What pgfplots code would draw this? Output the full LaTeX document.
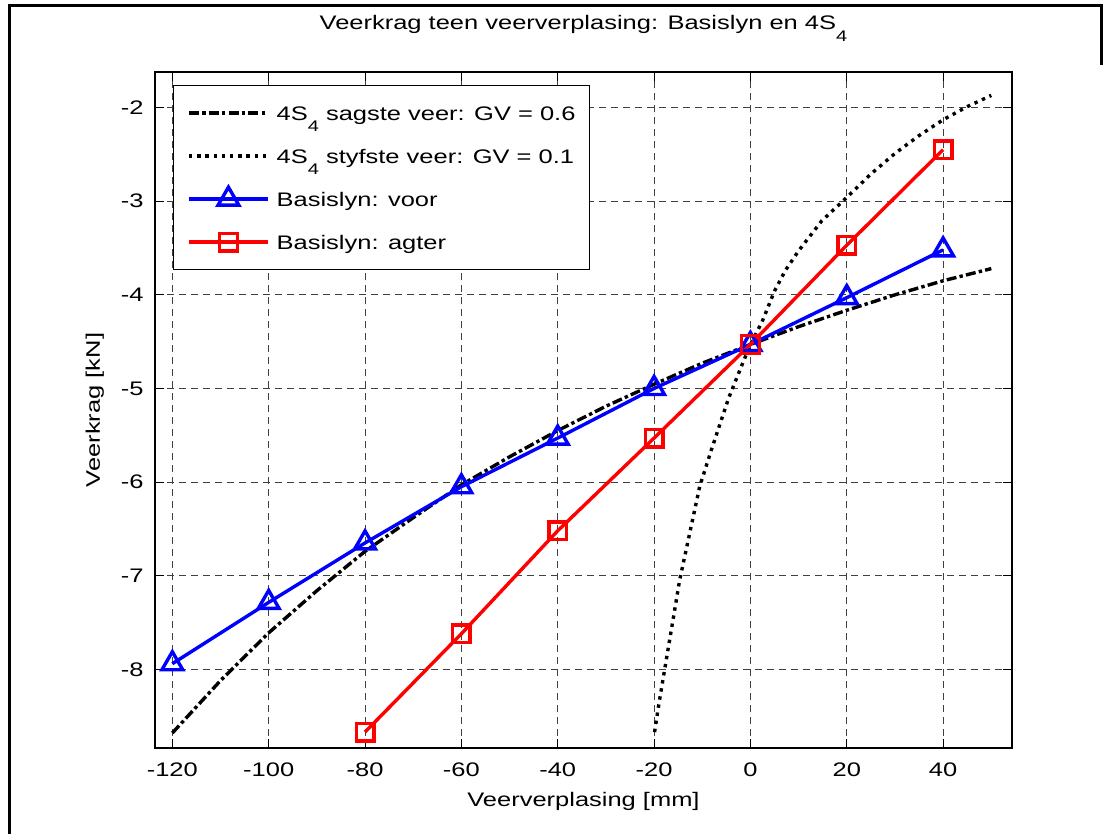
\documentclass[border=0pt]{standalone}
\usepackage{fontspec}
\setmainfont{Liberation Sans}[FakeStretch=1.3]
\usepackage{pgfplots}
\pgfplotsset{compat=1.18}
\newcommand{\sub}[1]{\raisebox{-5.8pt}{\fontsize{7.7}{8}\selectfont #1}}
\begin{document}
\begin{tikzpicture}[font=\fontsize{9.8}{11.8}\selectfont]
\useasboundingbox (0,0) rectangle (554.5pt,417pt);
\fill[white] (0,0) rectangle (554.5pt,417pt);
\draw[line width=1.6pt] (4.85pt,0) -- (4.85pt,414.3pt) -- (550.8pt,414.3pt) -- (550.8pt,384.5pt);
\begin{axis}[
  at={(77.5pt,43pt)}, anchor=south west,
  scale only axis, width=428.5pt, height=338pt,
  xmin=-123.6, xmax=54.3, ymin=-8.84, ymax=-1.62,
  xtick={-120,-100,-80,-60,-40,-20,0,20,40},
  xticklabels={-120,-100,-80,-60,-40,-20,0,20,40},
  ytick={-8,-7,-6,-5,-4,-3,-2},
  yticklabels={-8,-7,-6,-5,-4,-3,-2},
  tick align=inside, major tick length=4.3pt,
  tick style={black, line width=0.5pt},
  axis line style={line width=0.6pt},
  grid=major,
  major grid style={black!75, line width=0.5pt, dash pattern=on 3.5pt off 2.5pt},
  xticklabel style={anchor=base, inner sep=0pt, yshift=-14.5pt},
  yticklabel style={anchor=east, inner sep=0pt, xshift=-5.5pt},
  title={Veerkrag teen veerverplasing: Basislyn en 4S\sub{4}},
  title style={at={(axis description cs:0.5,1)}, anchor=base, inner sep=0pt, yshift=15pt},
  xlabel={Veerverplasing [mm]},
  xlabel style={at={(axis description cs:0.5,0)}, anchor=base, inner sep=0pt, yshift=-29.5pt},
  ylabel={Veerkrag [kN]},
  ylabel style={at={(axis description cs:-0.0642,0.5)}, anchor=base, inner sep=0pt},
  clip=false,
  legend image code/.code={\draw[mark repeat=2, mark phase=2, #1] plot coordinates {(0pt,0pt) (19.75pt,0pt) (39.5pt,0pt)};},
  legend cell align=left,
  legend style={at={(axis description cs:0.0207,0.9808)}, anchor=north west, draw=black, line width=0.5pt, fill=white,
    inner xsep=7pt, inner ysep=7.35pt, row sep=8.5pt, column sep=3.5pt,
    nodes={inner sep=0pt, text height=10pt, text depth=3pt}},
]
\addplot[black, line width=1.7pt, dash pattern=on 5pt off 1.6pt on 1.7pt off 1.6pt] coordinates {
(-120,-8.68) (-110,-8.12) (-100,-7.61) (-90,-7.16) (-80,-6.74) (-70,-6.38) (-60,-6.03) (-50,-5.73) (-40,-5.45) (-30,-5.19) (-20,-4.955) (-10,-4.73) (0,-4.53) (10,-4.34) (20,-4.165) (30,-4.00) (40,-3.85) (50,-3.72)};
\addlegendentry{4S\sub{4} sagste veer: GV = 0.6}
\addplot[black, line width=1.7pt, dash pattern=on 1.7pt off 2.4pt] coordinates {
(-19.9,-8.67) (-19,-8.37) (-17.8,-8.0) (-16,-7.45) (-14.7,-7.05) (-12,-6.4) (-10.5,-6.04) (-8,-5.64) (-6,-5.33) (-4.5,-5.1) (-2,-4.78) (0,-4.53) (2.4,-4.29) (5,-3.96) (7.25,-3.74) (10,-3.53) (14.8,-3.21) (20,-2.96) (25,-2.71) (30,-2.49) (35,-2.30) (40,-2.13) (45,-1.99) (50,-1.87)};
\addlegendentry{4S\sub{4} styfste veer: GV = 0.1}
\addplot[blue, line width=1.7pt, mark=triangle, mark size=6pt, mark options={solid}] coordinates {
(-120,-7.94) (-100,-7.285) (-80,-6.65) (-60,-6.05) (-40,-5.53) (-20,-5.0) (0,-4.53) (20,-4.03) (40,-3.52)};
\addlegendentry{Basislyn: voor}
\addplot[red, line width=1.7pt, mark=square, mark size=4.4pt, mark options={solid}] coordinates {
(-80,-8.67) (-60,-7.62) (-40,-6.52) (-20,-5.53) (0,-4.53) (20,-3.47) (40,-2.45)};
\addlegendentry{Basislyn: agter}
\end{axis}
\end{tikzpicture}
\end{document}
